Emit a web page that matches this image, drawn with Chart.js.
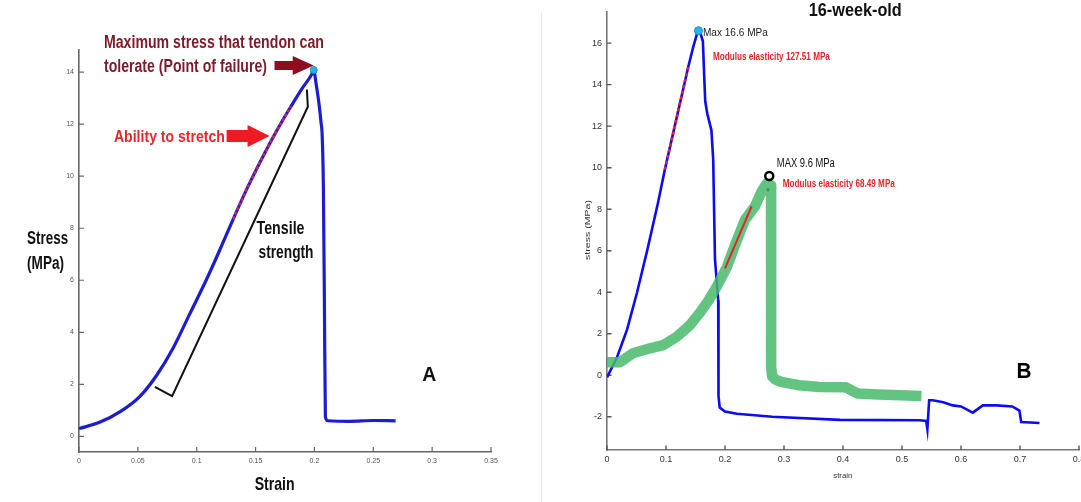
<!DOCTYPE html>
<html>
<head>
<meta charset="utf-8">
<script src="https://cdn.jsdelivr.net/npm/chart.js@4.4.1/dist/chart.umd.min.js"></script>
<style>
    html, body { margin: 0; padding: 0; background: #fff; }
    #wrap { position: relative; width: 1081px; height: 502px; overflow: hidden; }
    #sep { position: absolute; left: 541px; top: 12px; width: 1px; height: 490px; background: #e8e8e8; }
    .box { position: absolute; top: 0; height: 502px; }
    #boxA { left: 0; width: 541px; }
    #boxB { left: 541px; width: 560px; }
</style>
</head>
<body>
<div id="wrap">
    <div class="box" id="boxA"><canvas id="chartA" width="541" height="502"></canvas></div>
    <div id="sep"></div>
    <div class="box" id="boxB"><canvas id="chartB" width="560" height="502"></canvas></div>
</div>
<script>
/* ─── Panel A data (strain / stress in MPa) ─── */
const strainA = [0, 0.018, 0.035, 0.052, 0.066, 0.080, 0.094, 0.108, 0.118, 0.131, 0.143, 0.159, 0.173, 0.181, 0.190, 0.1975, 0.1994, 0.2014, 0.2042, 0.2057, 0.2065, 0.2076, 0.2085, 0.2093, 0.2115, 0.23, 0.25, 0.269];
const stressA = [0.3, 0.55, 0.95, 1.55, 2.35, 3.4, 4.7, 6.0, 7.0, 8.35, 9.55, 11.0, 12.15, 12.75, 13.4, 13.9, 14.08, 13.56, 12.67, 12.03, 11.65, 9.6, 5.0, 0.75, 0.6, 0.58, 0.61, 0.6];
const stretchStrainA = [0.131, 0.143, 0.159, 0.173, 0.180];
const stretchStressA = [8.35, 9.55, 11.0, 12.15, 12.68];
const bracketStrainA = [0.0644, 0.0791, 0.1944, 0.1936];
const bracketStressA = [1.90, 1.55, 12.67, 13.33];
const peakA = [0.1994, 14.08];
const xTicksA = [0, 0.05, 0.1, 0.15, 0.2, 0.25, 0.3, 0.35];
const yTicksA = [0, 2, 4, 6, 8, 10, 12, 14];

/* ─── Panel B data ─── */
const strainB = [0, 0.017, 0.034, 0.051, 0.068, 0.086, 0.098, 0.118, 0.1377, 0.146, 0.152, 0.155, 0.158, 0.1625, 0.1645, 0.1665, 0.170, 0.177, 0.180, 0.183, 0.1885, 0.1887, 0.1893, 0.191, 0.20, 0.22, 0.28, 0.395, 0.53, 0.541, 0.543, 0.546, 0.552, 0.57, 0.586, 0.60, 0.62, 0.637, 0.66, 0.687, 0.699, 0.702, 0.733];
const stressB = [-0.1, 0.87, 2.2, 4.0, 6.0, 8.25, 9.9, 12.4, 14.85, 15.8, 16.4, 16.6, 16.5, 16.1, 14.6, 13.2, 12.6, 11.8, 10.4, 5.6, 3.6, 2.2, -1.0, -1.55, -1.75, -1.85, -2.0, -2.15, -2.17, -2.2, -2.6, -1.2, -1.2, -1.3, -1.45, -1.5, -1.8, -1.45, -1.45, -1.5, -1.7, -2.25, -2.3];
const blueModStrainB = [0.098, 0.118, 0.1377];
const blueModStressB = [9.9, 12.4, 14.85];
const greenStrainB = [0, 0.022, 0.044, 0.073, 0.095, 0.118, 0.14, 0.157, 0.172, 0.186, 0.203, 0.220, 0.234, 0.251, 0.262, 0.271, 0.278, 0.2782, 0.280, 0.285, 0.295, 0.326, 0.36, 0.405, 0.414, 0.425, 0.46, 0.533];
const greenStressB = [0.63, 0.63, 1.06, 1.3, 1.45, 1.85, 2.4, 3.0, 3.6, 4.27, 5.2, 6.5, 7.5, 8.15, 8.85, 9.25, 9.15, 0.4, -0.05, -0.2, -0.32, -0.48, -0.56, -0.58, -0.72, -0.88, -0.93, -1.0];
const greenModStrainB = [0.200, 0.245];
const greenModStressB = [5.15, 8.13];
const peakBlueB = [0.155, 16.6];
const peakGreenB = [0.275, 9.6];
const greenTipB = [0.273, 8.94];
const xTicksB = [0, 0.1, 0.2, 0.3, 0.4, 0.5, 0.6, 0.7, 0.8];
const yTicksB = [-2, 0, 2, 4, 6, 8, 10, 12, 14, 16];

const FONT = '"Liberation Sans", Arial, Helvetica, sans-serif';
Chart.defaults.font.family = FONT;

function pts(xs, ys) {
    return xs.map(function(x, i) { return { x: x, y: ys[i] }; });
}

/* text labels in data coordinates, squeezed to the width seen in the picture */
const notesA = [
    { text: 'Maximum stress that tendon can', x: 0.0212, y: 15.19, size: 18, bold: true, color: '#7d1b2a', w: 220 },
    { text: 'tolerate (Point of failure)', x: 0.0212, y: 14.27, size: 18, bold: true, color: '#7d1b2a', w: 163 },
    { text: 'Ability to stretch', x: 0.0297, y: 11.56, size: 17, bold: true, color: '#e5262b', w: 111 },
    { text: 'Tensile', x: 0.1508, y: 8.04, size: 18, bold: true, color: '#111', w: 48 },
    { text: 'strength', x: 0.1525, y: 7.10, size: 18, bold: true, color: '#111', w: 55 },
    { text: 'Stress', x: -0.0441, y: 7.65, size: 18, bold: true, color: '#111', w: 41 },
    { text: '(MPa)', x: -0.0441, y: 6.69, size: 18, bold: true, color: '#111', w: 37 },
    { text: 'Strain', x: 0.1492, y: -1.81, size: 19, bold: true, color: '#111', w: 40 },
    { text: 'A', x: 0.2915, y: 2.42, size: 20, bold: true, color: '#111', w: 14 }
];
const arrowsA = [
    { x0: 0.1661, x1: 0.1994, y: 14.25, body: 4.5, head: 9.5, headLen: 21, color: '#8e0e1e' },
    { x0: 0.1254, x1: 0.1619, y: 11.54, body: 6, head: 11, headLen: 22, color: '#ec1c24' }
];
const notesB = [
    { text: '16-week-old', x: 0.342, y: 17.63, size: 18, bold: true, color: '#111', w: 93 },
    { text: 'Max 16.6 MPa', x: 0.1625, y: 16.52, size: 11, bold: false, color: '#222', w: 65 },
    { text: 'Modulus elasticity 127.51 MPa', x: 0.1795, y: 15.36, size: 10, bold: true, color: '#e0242a', w: 117 },
    { text: 'MAX 9.6 MPa', x: 0.2878, y: 10.24, size: 12, bold: false, color: '#111', w: 58 },
    { text: 'Modulus elasticity 68.49 MPa', x: 0.298, y: 9.23, size: 10, bold: true, color: '#e0242a', w: 112 },
    { text: 'B', x: 0.694, y: 0.24, size: 22, bold: true, color: '#000', w: 15 },
    { text: 'strain', x: 0.3996, y: -4.83, size: 8, bold: false, color: '#333', w: 19, center: true },
    { text: 'stress (MPa)', x: -0.0339, y: 7.0, size: 8, bold: false, color: '#333', w: 60, center: true, rot: -Math.PI / 2 }
];

function drawNote(ctx, chart, n) {
    const px = chart.scales.x.getPixelForValue(n.x);
    const py = chart.scales.y.getPixelForValue(n.y);
    ctx.save();
    ctx.font = (n.bold ? 'bold ' : '') + n.size + 'px ' + FONT;
    ctx.fillStyle = n.color;
    ctx.textBaseline = 'alphabetic';
    const w = ctx.measureText(n.text).width;
    ctx.translate(px, py);
    if (n.rot) ctx.rotate(n.rot);
    ctx.scale(n.w ? n.w / w : 1, 1);
    ctx.fillText(n.text, n.center ? -w / 2 : 0, n.size * 0.36);
    ctx.restore();
}

function drawArrow(ctx, chart, a) {
    const x0 = chart.scales.x.getPixelForValue(a.x0);
    const x1 = chart.scales.x.getPixelForValue(a.x1);
    const y = chart.scales.y.getPixelForValue(a.y);
    const xh = x1 - a.headLen;
    ctx.save();
    ctx.fillStyle = a.color;
    ctx.beginPath();
    ctx.moveTo(x0, y - a.body);
    ctx.lineTo(xh, y - a.body);
    ctx.lineTo(xh, y - a.head);
    ctx.lineTo(x1, y);
    ctx.lineTo(xh, y + a.head);
    ctx.lineTo(xh, y + a.body);
    ctx.lineTo(x0, y + a.body);
    ctx.closePath();
    ctx.fill();
    ctx.restore();
}

function notesPlugin(notes, arrows) {
    return {
        id: 'notes',
        afterDraw: function(chart) {
            arrows.forEach(function(a) { drawArrow(chart.ctx, chart, a); });
            notes.forEach(function(n) { drawNote(chart.ctx, chart, n); });
        }
    };
}

/* MATLAB style ticks pointing into the plot */
function innerTicks(len, color, width) {
    return {
        id: 'innerTicks',
        beforeDatasetsDraw: function(chart) {
            const ctx = chart.ctx, a = chart.chartArea;
            const x = chart.scales.x, y = chart.scales.y;
            ctx.save();
            ctx.strokeStyle = color;
            ctx.lineWidth = width;
            ctx.beginPath();
            x.ticks.forEach(function(t) {
                const p = x.getPixelForValue(t.value);
                ctx.moveTo(p, a.bottom);
                ctx.lineTo(p, a.bottom - len);
            });
            y.ticks.forEach(function(t) {
                const p = y.getPixelForValue(t.value);
                ctx.moveTo(a.left, p);
                ctx.lineTo(a.left + len, p);
            });
            ctx.stroke();
            ctx.restore();
        }
    };
}

function axis(min, max, ticks, fontSize, color, pad, size, borderColor, horizontal) {
    return {
        type: 'linear',
        min: min,
        max: max,
        grid: { display: false, drawTicks: false },
        border: { display: true, color: borderColor, width: 1.6 },
        ticks: {
            autoSkip: false,
            maxRotation: 0,
            padding: pad,
            color: color,
            font: { size: fontSize },
            callback: function(v) { return String(v); }
        },
        afterBuildTicks: function(s) { s.ticks = ticks.map(function(v) { return { value: v }; }); },
        afterFit: function(s) {
            if (horizontal) s.height = size; else s.width = size;
        }
    };
}

function line(data, color, width, order, extra) {
    return Object.assign({
        data: data,
        showLine: true,
        borderColor: color,
        borderWidth: width,
        pointRadius: 0,
        fill: false,
        order: order
    }, extra || {});
}

/* ─── Panel A ─── */
new Chart(document.getElementById('chartA'), {
    type: 'scatter',
    data: {
        datasets: [
            { data: [{ x: peakA[0], y: peakA[1] }], pointRadius: 3.5, backgroundColor: '#27b4e8', borderColor: '#1a90c8', borderWidth: 1, order: 0 },
            line(pts(stretchStrainA, stretchStressA), '#c8284e', 2.6, 1, { borderDash: [3, 2] }),
            line(pts(bracketStrainA, bracketStressA), '#111', 2, 2),
            line(pts(strainA, stressA), '#1c1cd0', 3.2, 3, { cubicInterpolationMode: 'monotone' })
        ]
    },
    options: {
        responsive: false,
        animation: false,
        layout: { padding: { left: 49, right: 50, top: 50, bottom: 30 } },
        plugins: { legend: { display: false }, tooltip: { enabled: false } },
        scales: {
            x: axis(0, 0.35, xTicksA, 7, '#555', 5, 20, '#666', true),
            y: axis(-0.6, 14.85, yTicksA, 7, '#555', 5, 30, '#666', false)
        }
    },
    plugins: [innerTicks(5, '#666', 1.2), notesPlugin(notesA, arrowsA)]
});

/* ─── Panel B (canvas runs past the page edge so the last label is cut like the original) ─── */
new Chart(document.getElementById('chartB'), {
    type: 'scatter',
    data: {
        datasets: [
            { data: [{ x: peakBlueB[0], y: peakBlueB[1] }], pointRadius: 4, backgroundColor: '#27b4e8', borderColor: '#1a90c8', borderWidth: 1, order: 0 },
            { data: [{ x: peakGreenB[0], y: peakGreenB[1] }], pointRadius: 4, backgroundColor: '#fff', borderColor: '#000', borderWidth: 2.5, order: 0 },
            { data: [{ x: greenTipB[0], y: greenTipB[1] }], pointStyle: 'triangle', rotation: 180, pointRadius: 2.5, backgroundColor: '#2f9a58', borderWidth: 0, order: 0 },
            line(pts(greenModStrainB, greenModStressB), '#e8202a', 2, 1),
            line(pts(blueModStrainB, blueModStressB), '#f0202a', 2.6, 1, { borderDash: [3, 3] }),
            line(pts(greenStrainB, greenStressB), 'rgba(72,186,108,0.85)', 10.5, 2, { borderJoinStyle: 'round', borderCapStyle: 'butt' }),
            line(pts(strainB, stressB), '#0c0cee', 2.6, 3)
        ]
    },
    options: {
        responsive: false,
        animation: false,
        layout: { padding: { left: 36, right: 22, top: 12, bottom: 32 } },
        plugins: { legend: { display: false }, tooltip: { enabled: false } },
        scales: {
            x: axis(0, 0.8, xTicksB, 9, '#333', 4, 20, '#777', true),
            y: axis(-3.6, 17.5, yTicksB, 9, '#333', 5, 30, '#777', false)
        }
    },
    plugins: [innerTicks(4.5, '#555', 1.4), notesPlugin(notesB, [])]
});
</script>
</body>
</html>
